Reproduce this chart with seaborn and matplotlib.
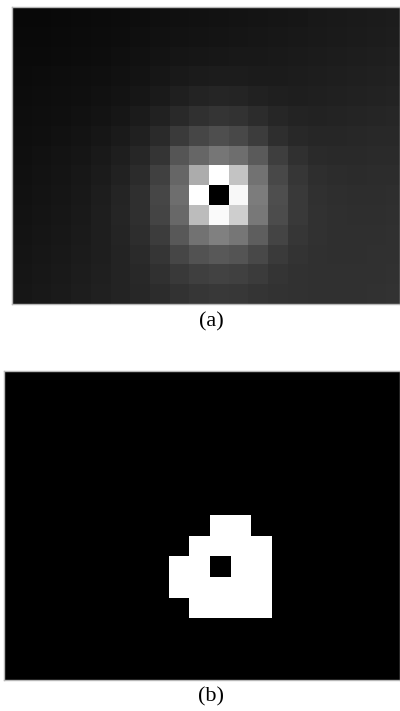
import numpy as np
import matplotlib
matplotlib.use("Agg")
import matplotlib.pyplot as plt
import seaborn as sns

sns.set_theme(style="white")
plt.rcParams["font.family"] = ["Liberation Serif", "DejaVu Serif"]

# (a) intensity field (grey levels 0-255), 15 rows x 20 columns
intensity_rows = [
    [8, 8, 9, 10, 11, 12, 13, 15, 16, 17, 18, 19, 20, 21, 22, 24, 25, 26, 27, 28],
    [9, 9, 10, 11, 12, 13, 15, 17, 18, 19, 20, 21, 22, 23, 24, 25, 26, 27, 28, 29],
    [10, 10, 11, 12, 13, 15, 17, 19, 21, 22, 23, 24, 24, 25, 26, 27, 28, 29, 30, 31],
    [11, 12, 13, 14, 15, 17, 19, 22, 25, 27, 28, 28, 27, 27, 28, 29, 30, 31, 32, 33],
    [12, 13, 14, 15, 17, 19, 22, 26, 31, 35, 37, 36, 33, 31, 30, 31, 32, 33, 34, 35],
    [13, 14, 15, 17, 19, 22, 27, 33, 41, 48, 52, 50, 44, 38, 35, 34, 35, 36, 37, 38],
    [14, 15, 17, 19, 22, 26, 32, 42, 58, 70, 78, 72, 60, 46, 40, 38, 38, 39, 40, 40],
    [15, 17, 19, 21, 25, 30, 38, 52, 85, 102, 118, 110, 90, 62, 48, 42, 41, 41, 42, 42],
    [16, 18, 20, 23, 27, 33, 43, 64, 102, 172, 255, 195, 114, 72, 54, 46, 44, 43, 44, 44],
    [17, 19, 21, 24, 29, 36, 47, 70, 110, 255, 0, 248, 124, 78, 57, 48, 46, 45, 45, 46],
    [18, 20, 22, 25, 30, 37, 47, 68, 104, 188, 250, 206, 120, 76, 57, 49, 47, 46, 46, 47],
    [19, 21, 23, 26, 30, 36, 45, 60, 88, 114, 128, 118, 94, 68, 54, 49, 47, 47, 47, 48],
    [20, 22, 24, 27, 30, 35, 42, 53, 70, 82, 88, 84, 72, 58, 51, 48, 47, 47, 48, 48],
    [21, 23, 25, 28, 31, 35, 40, 48, 57, 63, 66, 64, 59, 52, 49, 48, 48, 48, 48, 49],
    [22, 24, 26, 29, 32, 35, 39, 44, 50, 54, 56, 55, 52, 50, 49, 48, 48, 48, 49, 50],
]

# (b) binary region, 15 rows x 20 columns
region_rows = [
    [0] * 20,
    [0] * 20,
    [0] * 20,
    [0] * 20,
    [0] * 20,
    [0] * 20,
    [0] * 20,
    [0, 0, 0, 0, 0, 0, 0, 0, 0, 0, 1, 1, 0, 0, 0, 0, 0, 0, 0, 0],
    [0, 0, 0, 0, 0, 0, 0, 0, 0, 1, 1, 1, 1, 0, 0, 0, 0, 0, 0, 0],
    [0, 0, 0, 0, 0, 0, 0, 0, 1, 1, 0, 1, 1, 0, 0, 0, 0, 0, 0, 0],
    [0, 0, 0, 0, 0, 0, 0, 0, 1, 1, 1, 1, 1, 0, 0, 0, 0, 0, 0, 0],
    [0, 0, 0, 0, 0, 0, 0, 0, 0, 1, 1, 1, 1, 0, 0, 0, 0, 0, 0, 0],
    [0] * 20,
    [0] * 20,
    [0] * 20,
]

panel_labels = ["(a)", "(b)"]

W, H = 400, 711
fig = plt.figure(figsize=(W / 100, H / 100), dpi=100)


def px_axes(x0, y0, x1, y1):
    return fig.add_axes([x0 / W, 1 - y1 / H, (x1 - x0) / W, (y1 - y0) / H])


def style(ax, visible_cols):
    ax.set_xlim(0, visible_cols)
    ax.set_xticks([])
    ax.set_yticks([])
    ax.set_xlabel("")
    ax.set_ylabel("")
    for s in ax.spines.values():
        s.set_visible(True)
        s.set_color("#b8b8b8")
        s.set_linewidth(1.0)


ax_a = px_axes(12, 7, 400, 304)
sns.heatmap(np.array(intensity_rows), ax=ax_a, cmap="gray", vmin=0, vmax=255,
            cbar=False, square=False)
style(ax_a, 388 / 19.7)

ax_b = px_axes(4, 371, 400, 680)
sns.heatmap(np.array(region_rows), ax=ax_b, cmap="gray", vmin=0, vmax=1,
            cbar=False, square=False)
style(ax_b, 396 / 20.6)

fig.text(211 / W, 1 - 322 / H, panel_labels[0], ha="center", va="center",
         fontsize=16, color="black")
fig.text(211 / W, 1 - 697 / H, panel_labels[1], ha="center", va="center",
         fontsize=16, color="black")

fig.savefig("out.png", dpi=100, facecolor="white")
